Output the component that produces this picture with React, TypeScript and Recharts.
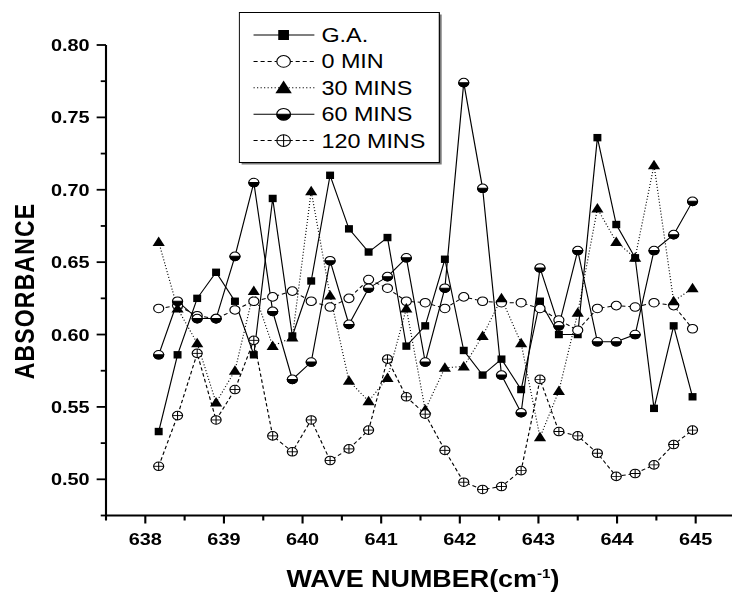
import React from 'react';
import { LineChart, Line, XAxis, YAxis, Legend } from 'recharts';

// wave numbers (cm-1) of the sampled points
const waveNumbers = [
  638.17, 638.41, 638.66, 638.9, 639.14, 639.38, 639.62, 639.87, 640.11, 640.35,
  640.59, 640.84, 641.08, 641.32, 641.56, 641.81, 642.05, 642.29, 642.53, 642.78,
  643.02, 643.26, 643.5, 643.75, 643.99, 644.23, 644.47, 644.72, 644.96,
];

const gaValues = [
  0.533, 0.586, 0.625, 0.643, 0.623, 0.586, 0.694, 0.599, 0.637, 0.71,
  0.673, 0.657, 0.667, 0.592, 0.606, 0.652, 0.589, 0.572, 0.583, 0.562,
  0.623, 0.6, 0.6, 0.736, 0.676, 0.653, 0.549, 0.606, 0.557,
];
const min0Values = [
  0.618, 0.62, 0.613, 0.611, 0.617, 0.623, 0.626, 0.63, 0.623, 0.619,
  0.625, 0.638, 0.632, 0.623, 0.622, 0.618, 0.626, 0.623, 0.622, 0.622,
  0.618, 0.61, 0.603, 0.618, 0.62, 0.619, 0.622, 0.62, 0.604,
];
const min30Values = [
  0.664, 0.618, 0.594, 0.553, 0.575, 0.63, 0.592, 0.598, 0.699, 0.627,
  0.568, 0.554, 0.57, 0.618, 0.548, 0.577, 0.578, 0.599, 0.625, 0.594,
  0.529, 0.561, 0.615, 0.687, 0.664, 0.653, 0.717, 0.623, 0.632,
];
const min60Values = [
  0.586, 0.623, 0.611, 0.611, 0.654, 0.705, 0.616, 0.569, 0.581, 0.651,
  0.607, 0.632, 0.64, 0.653, 0.581, 0.632, 0.774, 0.701, 0.572, 0.546,
  0.646, 0.606, 0.658, 0.595, 0.595, 0.6, 0.658, 0.669, 0.692,
];
const min120Values = [
  0.509, 0.544, 0.587, 0.541, 0.562, 0.596, 0.53, 0.519, 0.541, 0.513,
  0.521, 0.534, 0.583, 0.557, 0.545, 0.52, 0.498, 0.493, 0.495, 0.506,
  0.569, 0.533, 0.53, 0.518, 0.502, 0.504, 0.51, 0.524, 0.534,
];

const xTicks = [637.5, 638, 638.5, 639, 639.5, 640, 640.5, 641, 641.5, 642, 642.5, 643, 643.5, 644, 644.5, 645, 645.5];
const yTicks = [0.475, 0.5, 0.525, 0.55, 0.575, 0.6, 0.625, 0.65, 0.675, 0.7, 0.725, 0.75, 0.775, 0.8];

const FONT = '"Liberation Sans", Arial, Helvetica, sans-serif';
// the original picture is a bit wider than tall
const STRETCH = 1.17;
const W = 634;
const H = 594;

type MarkerKind = 'square' | 'circle' | 'triangle' | 'half' | 'plus';

const series: { key: string; name: string; marker: MarkerKind; dash?: string }[] = [
  { key: 'ga', name: 'G.A.', marker: 'square' },
  { key: 'min0', name: '0 MIN', marker: 'circle', dash: '3.5 2.5' },
  { key: 'min30', name: '30 MINS', marker: 'triangle', dash: '1 2' },
  { key: 'min60', name: '60 MINS', marker: 'half' },
  { key: 'min120', name: '120 MINS', marker: 'plus', dash: '3.5 2.5' },
];

const data = waveNumbers.map((x, i) => ({
  x,
  ga: gaValues[i],
  min0: min0Values[i],
  min30: min30Values[i],
  min60: min60Values[i],
  min120: min120Values[i],
}));

function Marker({ kind, cx, cy, s = 1 }: { kind: MarkerKind; cx: number; cy: number; s?: number }) {
  if (cx == null || cy == null) return null;
  const r = 4.3 * s;
  switch (kind) {
    case 'square':
      return <rect x={cx - 3.4 * s} y={cy - 3.7 * s} width={6.8 * s} height={7.4 * s} fill="#000" />;
    case 'circle':
      return <circle cx={cx} cy={cy} r={r} fill="#fff" stroke="#000" strokeWidth={1} />;
    case 'triangle':
      return (
        <polygon
          points={`${cx},${cy - 5.5 * s} ${cx - 5.2 * s},${cy + 4 * s} ${cx + 5.2 * s},${cy + 4 * s}`}
          fill="#000"
        />
      );
    case 'half':
      return (
        <g>
          <circle cx={cx} cy={cy} r={r} fill="#fff" stroke="#000" strokeWidth={1} />
          <path d={`M${cx - r},${cy} A${r},${r} 0 0 0 ${cx + r},${cy} Z`} fill="#000" stroke="#000" strokeWidth={1} />
        </g>
      );
    case 'plus':
      return (
        <g>
          <circle cx={cx} cy={cy} r={r} fill="#fff" stroke="#000" strokeWidth={1} />
          <line x1={cx - r} x2={cx + r} y1={cy} y2={cy} stroke="#000" strokeWidth={0.9} />
          <line x1={cx} x2={cx} y1={cy - r} y2={cy + r} stroke="#000" strokeWidth={0.9} />
        </g>
      );
  }
  return null;
}

function YTick({ x, y, payload }: any) {
  const axisX = x + 14;
  const major = Math.round(payload.value * 1000) % 50 === 0;
  return (
    <g>
      <line x1={axisX - (major ? 8 : 4.5)} x2={axisX} y1={y} y2={y} stroke="#000" strokeWidth={1.8} />
      {major && (
        <text x={x} y={y} dy={6} textAnchor="end" fontSize={17} fontWeight="bold" fontFamily={FONT} fill="#000">
          {payload.value.toFixed(2)}
        </text>
      )}
    </g>
  );
}

function XTick({ x, y, payload }: any) {
  const axisY = y - 17;
  const major = Number.isInteger(payload.value);
  return (
    <g>
      <line x1={x} x2={x} y1={axisY} y2={axisY + (major ? 8 : 5)} stroke="#000" strokeWidth={1.8} />
      {major && (
        <text x={x} y={y} dy={12.1} textAnchor="middle" fontSize={17} fontWeight="bold" fontFamily={FONT} fill="#000">
          {payload.value}
        </text>
      )}
    </g>
  );
}

function LegendBox() {
  const rows = [23, 49.4, 75.8, 102.2, 128.6];
  return (
    <svg width={176} height={155} style={{ display: 'block' }}>
      <rect x={2.5} y={2.5} width={171} height={150} fill="#7a7a7a" />
      <rect x={0.5} y={0.5} width={171} height={150} fill="#fff" stroke="#000" strokeWidth={1} />
      {series.map((s, i) => (
        <g key={s.key}>
          <line x1={12.7} x2={64.7} y1={rows[i]} y2={rows[i]} stroke="#000" strokeWidth={1} strokeDasharray={s.dash} />
          <Marker kind={s.marker} cx={38.4} cy={rows[i]} s={1.35} />
          <text x={70.7} y={rows[i] + 7} fontSize={20} fontFamily={FONT} fill="#000">
            {s.name}
          </text>
        </g>
      ))}
    </svg>
  );
}

export default function App() {
  return (
    <div style={{ position: 'absolute', left: 0, top: 0, width: 732, height: 594, overflow: 'hidden', background: '#fff' }}>
      <div style={{ width: W, height: H, transform: `scaleX(${STRETCH})`, transformOrigin: '0 0' }}>
        <LineChart width={W} height={H} data={data} margin={{ top: 45, right: 5.8, bottom: 0, left: 0 }}>
          <XAxis
            dataKey="x"
            type="number"
            domain={[637.5, 645.5]}
            ticks={xTicks}
            interval={0}
            height={78.5}
            tickSize={8}
            tickMargin={9}
            tickLine={false}
            axisLine={{ stroke: '#000', strokeWidth: 2 }}
            tick={(p: any) => <XTick {...p} />}
            label={{
              content: () => (
                <text x={361.5} y={587} textAnchor="middle" fontSize={23} fontWeight="bold" fontFamily={FONT} fill="#000">
                  WAVE NUMBER(cm
                  <tspan fontSize={13} dy={-9}>-1</tspan>
                  <tspan dy={9}>)</tspan>
                </text>
              ),
            }}
          />
          <YAxis
            type="number"
            domain={[0.475, 0.8]}
            ticks={yTicks}
            interval={0}
            width={90.6}
            tickSize={8}
            tickMargin={6}
            tickLine={false}
            axisLine={{ stroke: '#000', strokeWidth: 1.8 }}
            tick={(p: any) => <YTick {...p} />}
            label={{
              content: () => (
                <text
                  x={20.5}
                  y={291}
                  transform="rotate(-90 20.5 291)"
                  textAnchor="middle"
                  dy={8.2}
                  fontSize={23}
                  fontWeight="bold"
                  letterSpacing={1.2}
                  fontFamily={FONT}
                  fill="#000"
                >
                  ABSORBANCE
                </text>
              ),
            }}
          />
          <Legend
            layout="vertical"
            align="center"
            verticalAlign="middle"
            wrapperStyle={{ left: 204, top: 12, width: 176, height: 155 }}
            content={() => <LegendBox />}
          />
          {series.map((s) => (
            <Line
              key={s.key}
              dataKey={s.key}
              name={s.name}
              type="linear"
              stroke="#000"
              strokeWidth={1}
              strokeDasharray={s.dash}
              isAnimationActive={false}
              activeDot={false}
              dot={(p: any) => <Marker key={`${s.key}-${p.index}`} kind={s.marker} cx={p.cx} cy={p.cy} />}
            />
          ))}
        </LineChart>
      </div>
    </div>
  );
}
